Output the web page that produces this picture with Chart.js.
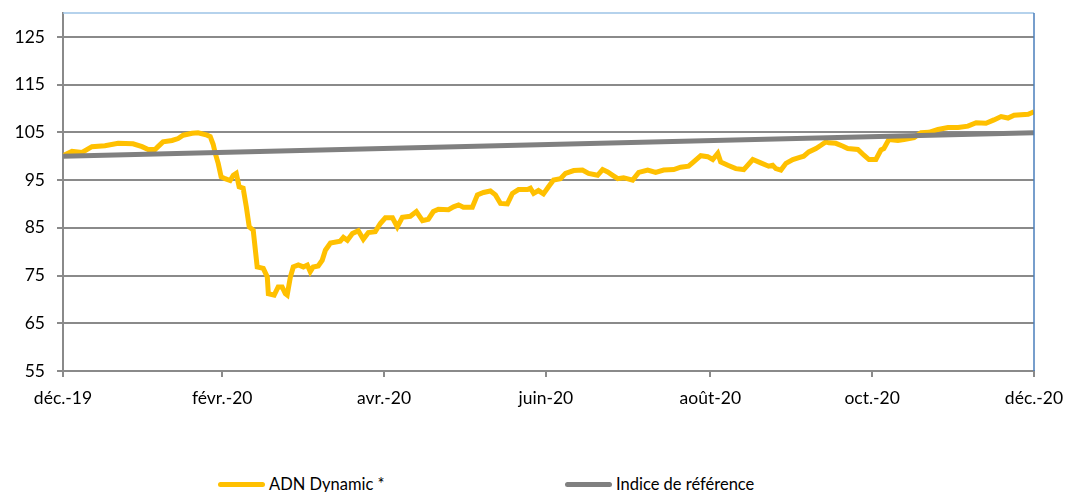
<!DOCTYPE html>
<html>
<head>
<meta charset="utf-8">
<script src="https://cdn.jsdelivr.net/npm/chart.js@4/dist/chart.umd.min.js"></script>
<style>
  html, body { margin: 0; padding: 0; background: #fff; overflow: hidden; }
  #wrap { position: relative; width: 1083px; height: 492px; }
  #myChart { position: absolute; left: 0; top: 0; }
  .leg { position: absolute; top: 473px; font-family: Lato, "Liberation Sans", sans-serif; font-size: 16.5px; color: #000; white-space: nowrap; line-height: 22px; }
  .leg span.bar { display: inline-block; width: 47px; height: 5px; border-radius: 3px; vertical-align: middle; margin-right: 4px; position: relative; top: -1px; }
</style>
</head>
<body>
<div id="wrap">
  <canvas id="myChart" width="1083" height="420"></canvas>
  <div class="leg" style="left:218px"><span class="bar" style="background:#FFC000"></span>ADN Dynamic *</div>
  <div class="leg" style="left:565px"><span class="bar" style="background:#808080"></span>Indice de référence</div>
</div>
<script>
// jours depuis le 31/12/2019
const jours = [0, 0.8, 3.4, 7.2, 10.9, 15.8, 20.8, 26.4, 29.8, 32.1, 34.7, 35.8, 37.7, 41.1, 43.4, 45.3, 48.7, 50.9, 54.3, 55.5,
  56.6, 57.4, 58.5, 59.6, 61.1, 63.0, 64.2, 65.3, 66.4, 67.9, 69.1, 70.2, 71.7, 73.2, 75.5, 77.0, 77.4, 79.6, 81.1, 82.6,
  83.8, 84.5, 85.7, 86.8, 88.7, 90.6, 92.1, 93.2, 94.3, 96.2, 97.7, 98.9, 100.8, 104.5, 105.7, 107.2, 109.1, 111.3, 113.2, 115.1,
  117.7, 119.6, 121.5, 124.2, 126.0, 127.9, 130.9, 133.2, 135.5, 137.7, 139.6, 141.5, 145.3, 147.2, 149.1, 150.9, 154.3, 156.2, 158.5, 161.1,
  163.0, 164.9, 167.5, 169.4, 171.7, 175.1, 176.2, 177.4, 179.2, 181.1, 183.0, 184.9, 187.5, 189.4, 192.5, 195.8, 198.1, 201.5, 203.4, 205.3,
  207.2, 209.1, 211.3, 214.7, 217.0, 220.4, 223.4, 226.4, 230.2, 232.8, 235.8, 237.7, 240.4, 243.0, 244.9, 246.8, 247.9, 250.6, 253.6, 256.6,
  260.0, 263.0, 266.0, 267.5, 268.7, 270.6, 272.5, 275.1, 277.4, 279.2, 281.1, 283.8, 285.7, 287.5, 288.7, 291.3, 294.0, 295.8, 299.6, 301.9,
  303.8, 306.4, 308.3, 309.4, 311.3, 314.7, 317.0, 320.8, 323.4, 326.4, 329.8, 333.6, 337.4, 341.1, 344.2, 347.9, 350.9, 353.6, 356.2, 358.5,
  363.8, 366]

const adnDynamic = [100.0, 100.3, 101.0, 100.8, 102.0, 102.2, 102.7, 102.6, 102.0, 101.4, 101.4, 102.0, 103.0, 103.3, 103.7, 104.4, 104.8, 104.9, 104.4, 104.1,
  102.5, 100.6, 98.5, 95.7, 95.3, 94.9, 96.0, 96.4, 93.6, 93.3, 89.4, 85.2, 84.5, 76.8, 76.5, 74.7, 71.2, 70.9, 72.6, 72.6,
  71.2, 70.9, 74.7, 76.8, 77.2, 76.8, 77.2, 75.8, 76.8, 77.0, 78.2, 80.3, 81.8, 82.2, 83.0, 82.4, 83.8, 84.4, 82.6, 84.0,
  84.2, 85.9, 87.1, 87.1, 85.2, 87.2, 87.4, 88.4, 86.5, 86.8, 88.4, 88.9, 88.8, 89.4, 89.8, 89.3, 89.3, 91.9, 92.4, 92.7,
  91.9, 90.1, 90.0, 92.2, 93.0, 93.0, 93.3, 92.2, 92.8, 92.1, 93.6, 95.0, 95.3, 96.4, 97.0, 97.1, 96.4, 96.0, 97.2, 96.7,
  96.0, 95.3, 95.5, 95.0, 96.6, 97.1, 96.6, 97.1, 97.2, 97.7, 97.9, 98.8, 100.1, 99.9, 99.3, 100.6, 98.8, 98.1, 97.4, 97.2,
  99.3, 98.6, 97.9, 98.1, 97.4, 97.1, 98.5, 99.3, 99.7, 100.0, 100.9, 101.6, 102.3, 103.0, 102.8, 102.7, 102.1, 101.6, 101.4, 100.2,
  99.3, 99.3, 101.3, 101.6, 103.5, 103.3, 103.5, 103.9, 104.9, 105.0, 105.6, 106.0, 106.0, 106.3, 107.0, 106.9, 107.6, 108.3, 108.0, 108.6,
  108.8, 109.3]

const indiceJours = [0, 366]
const indiceRef = [100.0, 104.9]

const tickJours = [0, 60, 121, 182, 244, 305, 366]
const tickLabels = ['déc.-19', 'févr.-20', 'avr.-20', 'juin-20', 'août-20', 'oct.-20', 'déc.-20']
const yTicks = [55, 65, 75, 85, 95, 105, 115, 125, 130]

const police = { family: 'Lato, "Liberation Sans", sans-serif', size: 17.5 }
const gris = '#8a8a8a'

const bordure = {
  id: 'bordure',
  afterDraw(chart) {
    const { ctx, chartArea: a } = chart
    ctx.save()
    ctx.lineWidth = 1.5
    ctx.strokeStyle = '#9dc3e6'
    ctx.beginPath(); ctx.moveTo(a.left, a.top); ctx.lineTo(a.right, a.top); ctx.stroke()
    ctx.strokeStyle = '#4a7ebb'
    ctx.beginPath(); ctx.moveTo(a.right, a.top); ctx.lineTo(a.right, a.bottom); ctx.stroke()
    ctx.restore()
  }
}

var ctx = document.getElementById('myChart')
var myChart = new Chart(ctx, {
  type: 'line',
  data: {
    datasets: [{
      label: 'ADN Dynamic *',
      data: jours.map((j, i) => ({ x: j, y: adnDynamic[i] })),
      borderColor: '#FFC000',
      borderWidth: 5,
      pointRadius: 0,
      tension: 0,
      order: 1
    }, {
      label: 'Indice de référence',
      data: indiceJours.map((j, i) => ({ x: j, y: indiceRef[i] })),
      borderColor: '#808080',
      borderWidth: 5,
      pointRadius: 0,
      order: 0
    }]
  },
  options: {
    responsive: false,
    animation: false,
    layout: { padding: { left: 0, top: 13, right: 49, bottom: 0 } },
    plugins: { legend: { display: false }, tooltip: { enabled: false } },
    scales: {
      x: {
        type: 'linear',
        min: 0,
        max: 366,
        afterBuildTicks: s => { s.ticks = tickJours.map(v => ({ value: v })) },
        afterFit: s => { s.height = 420 - 371 },
        ticks: {
          autoSkip: false,
          maxRotation: 0,
          color: '#000',
          font: police,
          padding: 11,
          callback: v => tickLabels[tickJours.indexOf(v)]
        },
        grid: { drawOnChartArea: false, drawTicks: true, tickLength: 6, color: gris, lineWidth: 2 },
        border: { color: gris, width: 2 }
      },
      y: {
        min: 55,
        max: 130,
        afterBuildTicks: s => { s.ticks = yTicks.map(v => ({ value: v })) },
        afterFit: s => { s.width = 63; s.paddingTop = 0; s.paddingBottom = 0 },
        ticks: {
          color: '#000',
          font: police,
          padding: 12,
          callback: v => (v === 130 ? '' : v)
        },
        grid: {
          color: c => (c.tick && c.tick.value === 130 ? 'rgba(0,0,0,0)' : gris),
          lineWidth: 2,
          tickLength: 6
        },
        border: { color: gris, width: 2 }
      }
    }
  },
  plugins: [bordure]
})
</script>
</body>
</html>
